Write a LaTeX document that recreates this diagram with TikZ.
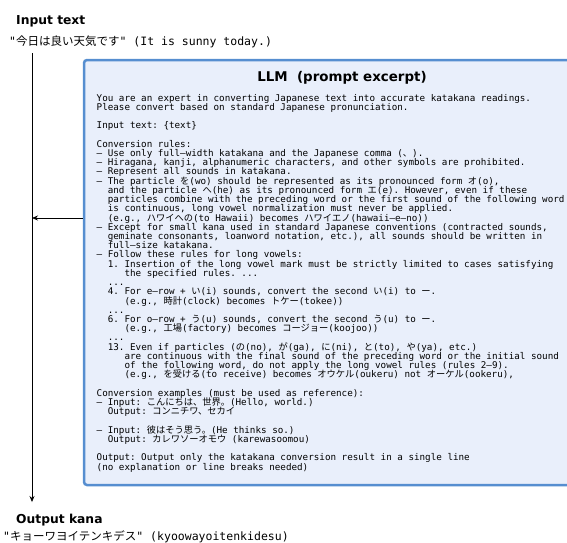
\documentclass[tikz,border=0pt]{standalone}
\usepackage{fontspec}
\usetikzlibrary{arrows.meta}
\setmainfont{DejaVu Sans}
\setmonofont{DejaVu Sans Mono}
\newfontfamily\jpfont{Noto Sans CJK JP}
\newcommand\jp[1]{{\jpfont #1}}
\newcommand\ind[1]{\setbox0\hbox{x}\hspace*{#1\wd0}}
\definecolor{boxfill}{RGB}{233,239,251}
\definecolor{boxline}{RGB}{86,142,208}
\begin{document}
\frenchspacing
\lineskiplimit=-\maxdimen
\begin{tikzpicture}[
   x=1pt, y=-1pt, >={Stealth[length=6pt,width=5pt]},
   head/.style={font=\fontsize{12.3}{14}\selectfont\bfseries, inner sep=0pt, anchor=base west},
   sample/.style={font=\fontsize{11.5}{13}\selectfont\ttfamily, inner sep=0pt, anchor=base west},
   panel/.style={draw=boxline, line width=2.5pt, fill=boxfill, rounded corners=3pt,
      minimum width=516pt, minimum height=425pt},
   prompt/.style={font=\fontsize{9.25}{9.22}\selectfont\ttfamily,
      align=left, inner sep=0pt, anchor=north west}
]
   \useasboundingbox (0,0) rectangle (567,542);

   \node (intitle) [head] at (16,24) {Input text};
   \node (intext) [sample] at (9,45) {"\jp{今日は良い天気です}" (It is sunny today.)};

   \node (llm) [panel] at (342,272.5) {};
   \node (title) [font=\fontsize{13.4}{16}\selectfont\bfseries, inner sep=0pt, anchor=base]
      at (llm.north |- 0,81) {LLM\ \ (prompt excerpt)};
   \node (body) [prompt] at (96.5,94) {%
You are an expert in converting Japanese text into accurate katakana readings.\\
Please convert based on standard Japanese pronunciation.\\
\mbox{}\\
Input text: \{text\}\\
\mbox{}\\
Conversion rules:\\
– Use only full–width katakana and the Japanese comma (\jp{、}).\\
– Hiragana, kanji, alphanumeric characters, and other symbols are prohibited.\\
– Represent all sounds in katakana.\\
– The particle \jp{を}(wo) should be represented as its pronounced form \jp{オ}(o),\\
\ind{2}and the particle \jp{へ}(he) as its pronounced form \jp{エ}(e). However, even if these\\
\ind{2}particles combine with the preceding word or the first sound of the following word\\
\ind{2}is continuous, long vowel normalization must never be applied.\\
\ind{2}(e.g., \jp{ハワイへの}(to Hawaii) becomes \jp{ハワイエノ}(hawaii–e–no))\\
– Except for small kana used in standard Japanese conventions (contracted sounds,\\
\ind{2}geminate consonants, loanword notation, etc.), all sounds should be written in\\
\ind{2}full–size katakana.\\
– Follow these rules for long vowels:\\
\ind{2}1. Insertion of the long vowel mark must be strictly limited to cases satisfying\\
\ind{5}the specified rules. ...\\
\ind{2}...\\
\ind{2}4. For e–row + \jp{い}(i) sounds, convert the second \jp{い}(i) to \jp{ー}.\\
\ind{5}(e.g., \jp{時計}(clock) becomes \jp{トケー}(tokee))\\
\ind{2}...\\
\ind{2}6. For o–row + \jp{う}(u) sounds, convert the second \jp{う}(u) to \jp{ー}.\\
\ind{5}(e.g., \jp{工場}(factory) becomes \jp{コージョー}(koojoo))\\
\ind{2}...\\
\ind{2}13. Even if particles (\jp{の}(no), \jp{が}(ga), \jp{に}(ni), \jp{と}(to), \jp{や}(ya), etc.)\\
\ind{5}are continuous with the final sound of the preceding word or the initial sound\\
\ind{5}of the following word, do not apply the long vowel rules (rules 2–9).\\
\ind{5}(e.g., \jp{を受ける}(to receive) becomes \jp{オウケル}(oukeru) not \jp{オーケル}(ookeru),\\
\mbox{}\\
Conversion examples (must be used as reference):\\
– Input: \jp{こんにちは、世界。}(Hello, world.)\\
\ind{2}Output: \jp{コンニチワ、セカイ}\\
\mbox{}\\
– Input: \jp{彼はそう思う。}(He thinks so.)\\
\ind{2}Output: \jp{カレワソーオモウ} (karewasoomou)\\
\mbox{}\\
Output: Output only the katakana conversion result in a single line\\
(no explanation or line breaks needed)};

   \node (outtitle) [head] at (16,523) {Output kana};
   \node (outtext) [sample] at (3,540) {"\jp{キョーワヨイテンキデス}" (kyoowayoitenkidesu)};

   % trunk from input down to output, prompt feeds in from the side
   \coordinate (trunktop) at (32,53);
   \coordinate (trunkend) at (32,502);
   \coordinate (join) at (32,218);
   \draw [->, line width=0.8pt] (trunktop) -- (trunkend);
   \draw [->, line width=0.8pt] (llm.west |- join) -- (join);
\end{tikzpicture}
\end{document}
